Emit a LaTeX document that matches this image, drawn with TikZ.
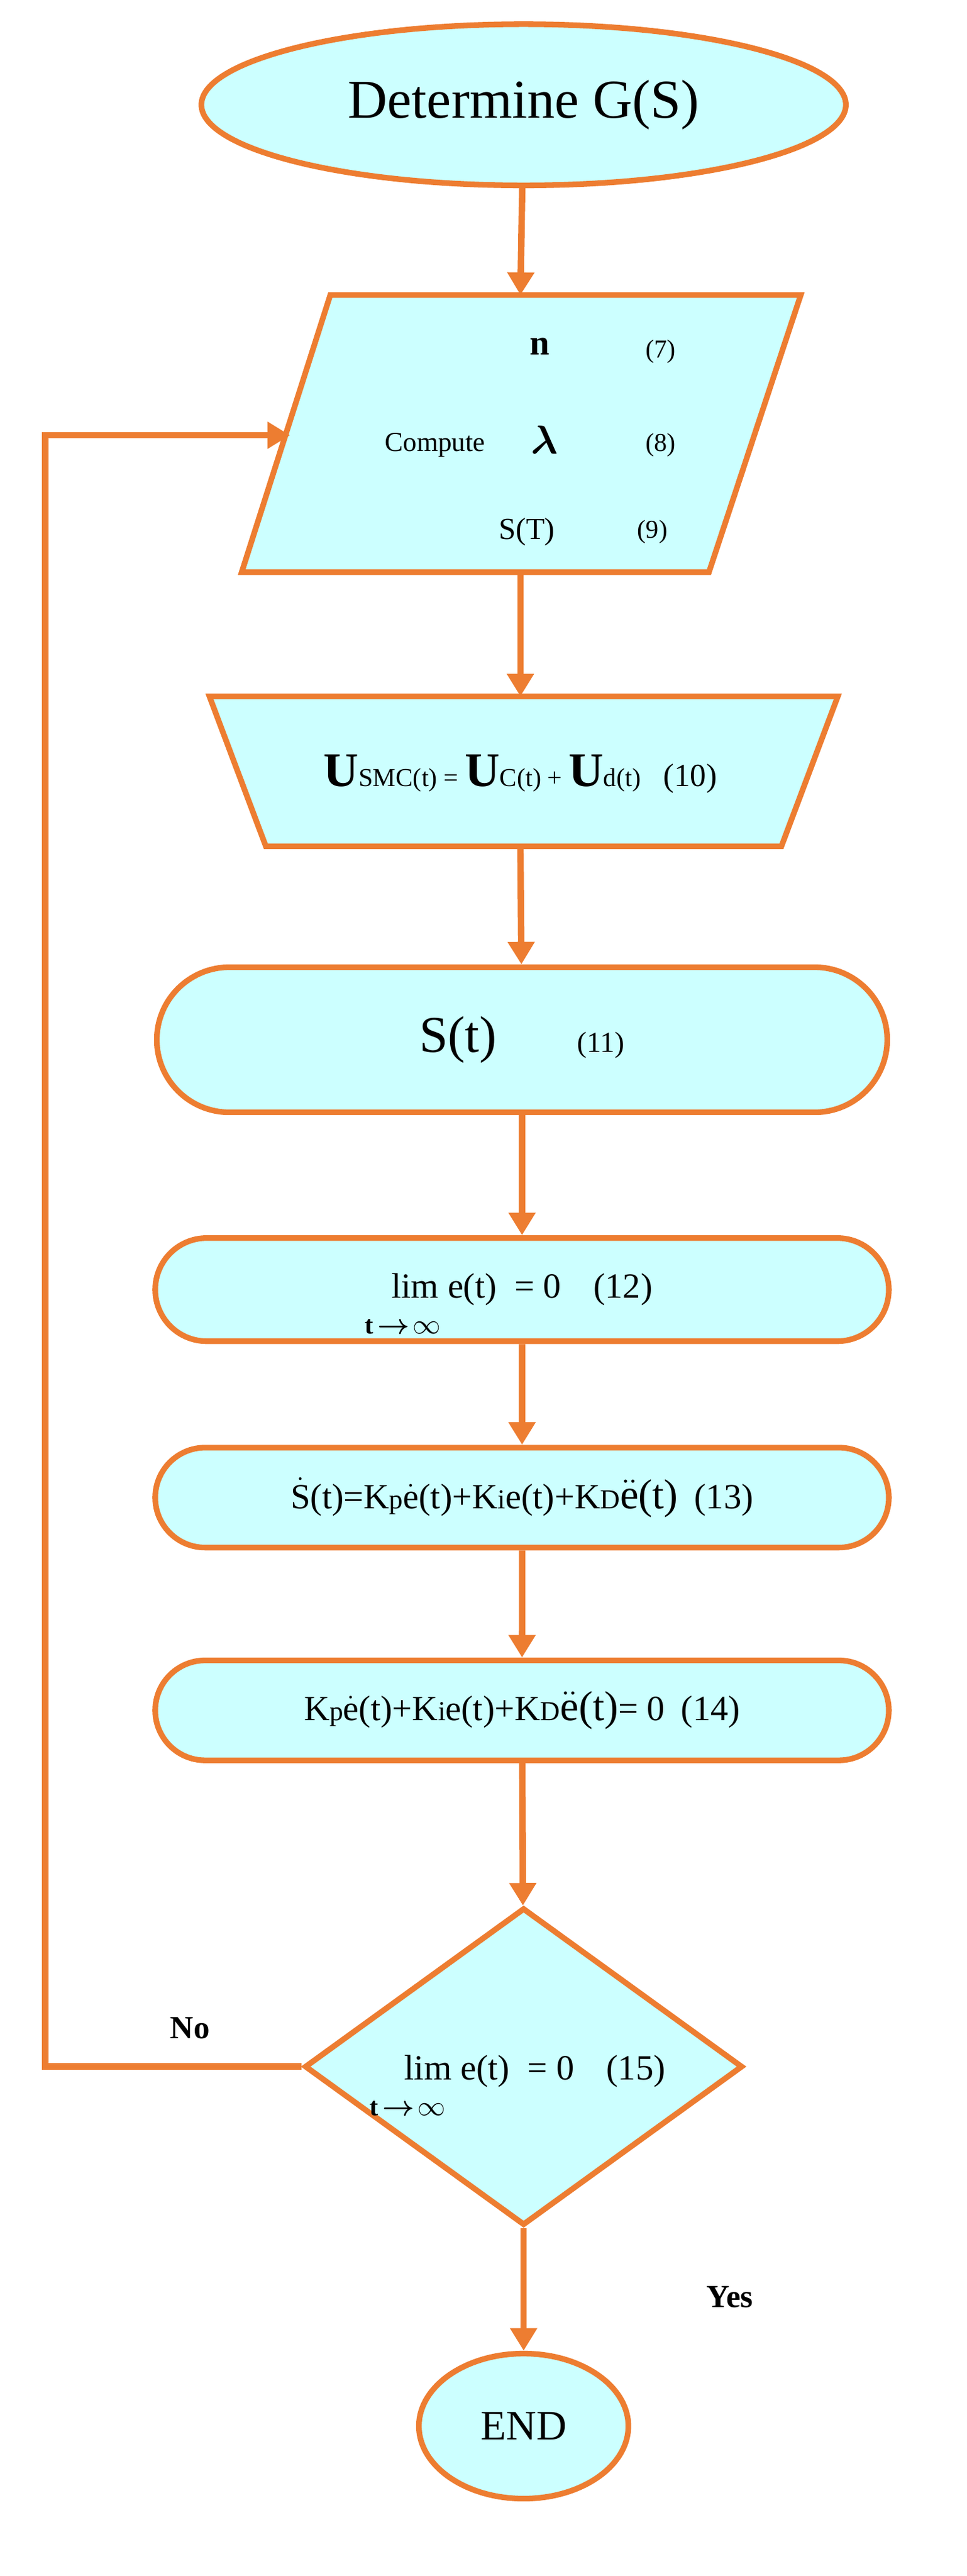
\documentclass[tikz,border=0pt]{standalone}
\usepackage{fontspec}
\usepackage{amsmath}
\setmainfont{Liberation Serif}
\usetikzlibrary{shapes, arrows, arrows.meta, calc, positioning, shapes.misc}
\definecolor{flowline}{RGB}{237,125,49}
\definecolor{flowfill}{RGB}{204,255,255}
\newcommand{\fs}[1]{\fontsize{#1}{#1}\selectfont}

\begin{document}
\begin{tikzpicture}[x=1pt, y=-1pt,
        box/.style={draw=flowline, fill=flowfill, line width=3.5pt},
        flow/.style={draw=flowline, line width=4pt, -{Triangle[length=14pt, width=16pt]}}]
        \useasboundingbox (0,0) rectangle (600,1598);

        % start
        \node[box, ellipse, minimum width=400pt, minimum height=100pt, font=\fs{34}] (start) at (325,65) {Determine G(S)};

        % compute block
        \draw[box] (205,183) -- (497,183) -- (440,355) -- (150,355) -- cycle;
        \coordinate (compT) at (323,183);
        \coordinate (compB) at (323,355);
        \coordinate (compL) at (180,270);
        \node[font=\fs{22}\bfseries] (cn) at (335,215) {n};
        \node[font=\fs{16}] (c7) at (410,218) {(7)};
        \node[font=\fs{17}] (comp) at (270,276) {Compute};
        \node[font=\fs{26}] (clam) at (338,273) {$\boldsymbol{\lambda}$};
        \node[font=\fs{16}] (c8) at (410,276) {(8)};
        \node[font=\fs{19}] (cs) at (327,330) {S(T)};
        \node[font=\fs{16}] (c9) at (405,330) {(9)};

        % control law
        \draw[box] (130,432) -- (520,432) -- (485,525) -- (165,525) -- cycle;
        \coordinate (lawT) at (323,432);
        \coordinate (lawB) at (323,525);
        \node (law) at (323,480) {{\fs{30}\bfseries U}{\fs{16}SMC(t) = }{\fs{30}\bfseries U}{\fs{16}C(t) + }{\fs{30}\bfseries U}{\fs{16}d(t)}\hspace{14pt}{\fs{20}(10)}};

        % sliding surface
        \node[box, rounded rectangle, minimum width=460pt, minimum height=90pt] (surf) at (324,645) {{\fs{32}S(t)}\hspace{50pt}{\fs{18}(11)}};

        \node[box, rounded rectangle, minimum width=462pt, minimum height=64pt, font=\fs{22}] (err) at (324,800) {lim e(t)\ \ = 0\hspace{20pt}(12)};
        \node[font=\fs{16}\bfseries] (errsub) at (250,823) {t$\,\boldsymbol{\to}\!\infty$};

        \node[box, rounded rectangle, minimum width=462pt, minimum height=62pt, font=\fs{22}] (sdot) at (324,929) {$\dot{\text{S}}$(t)=K{\fs{17}p}$\dot{\text{e}}$(t)+K{\fs{17}i}e(t)+K{\fs{17}D}{\fs{26}$\ddot{\text{e}}$(t)}\hspace{10pt}(13)};

        \node[box, rounded rectangle, minimum width=462pt, minimum height=62pt, font=\fs{22}] (pid) at (324,1061) {K{\fs{17}p}$\dot{\text{e}}$(t)+K{\fs{17}i}e(t)+K{\fs{17}D}{\fs{26}$\ddot{\text{e}}$(t)}= 0\hspace{10pt}(14)};

        % decision
        \node[box, diamond, minimum width=272pt, minimum height=197pt, inner sep=0pt] (dec) at (325,1282) {};
        \node[font=\fs{22}] (dtxt) at (332,1285) {lim e(t)\ \ = 0\hspace{20pt}(15)};
        \node[font=\fs{16}\bfseries] (dsub) at (253,1308) {t$\,\boldsymbol{\to}\!\infty$};

        \node[box, ellipse, minimum width=130pt, minimum height=90pt, font=\fs{26}] (stop) at (325,1505) {END};

        \node[font=\fs{20}\bfseries] (no) at (118,1258) {No};
        \node[font=\fs{20}\bfseries] (yes) at (453,1425) {Yes};

        \coordinate (loopA) at (28,1282);
        \coordinate (loopB) at (28,270);

        \draw[flow] (start) -- (compT);
        \draw[flow] (compB) -- (lawT);
        \draw[flow] (lawB) -- (surf);
        \draw[flow] (surf) -- (err);
        \draw[flow] (err) -- (sdot);
        \draw[flow] (sdot) -- (pid);
        \draw[flow] (pid) -- (dec);
        \draw[flow] (dec) -- (stop);
        \draw[flow] (dec.west) -- (loopA) -- (loopB) -- (compL);
\end{tikzpicture}
\end{document}
